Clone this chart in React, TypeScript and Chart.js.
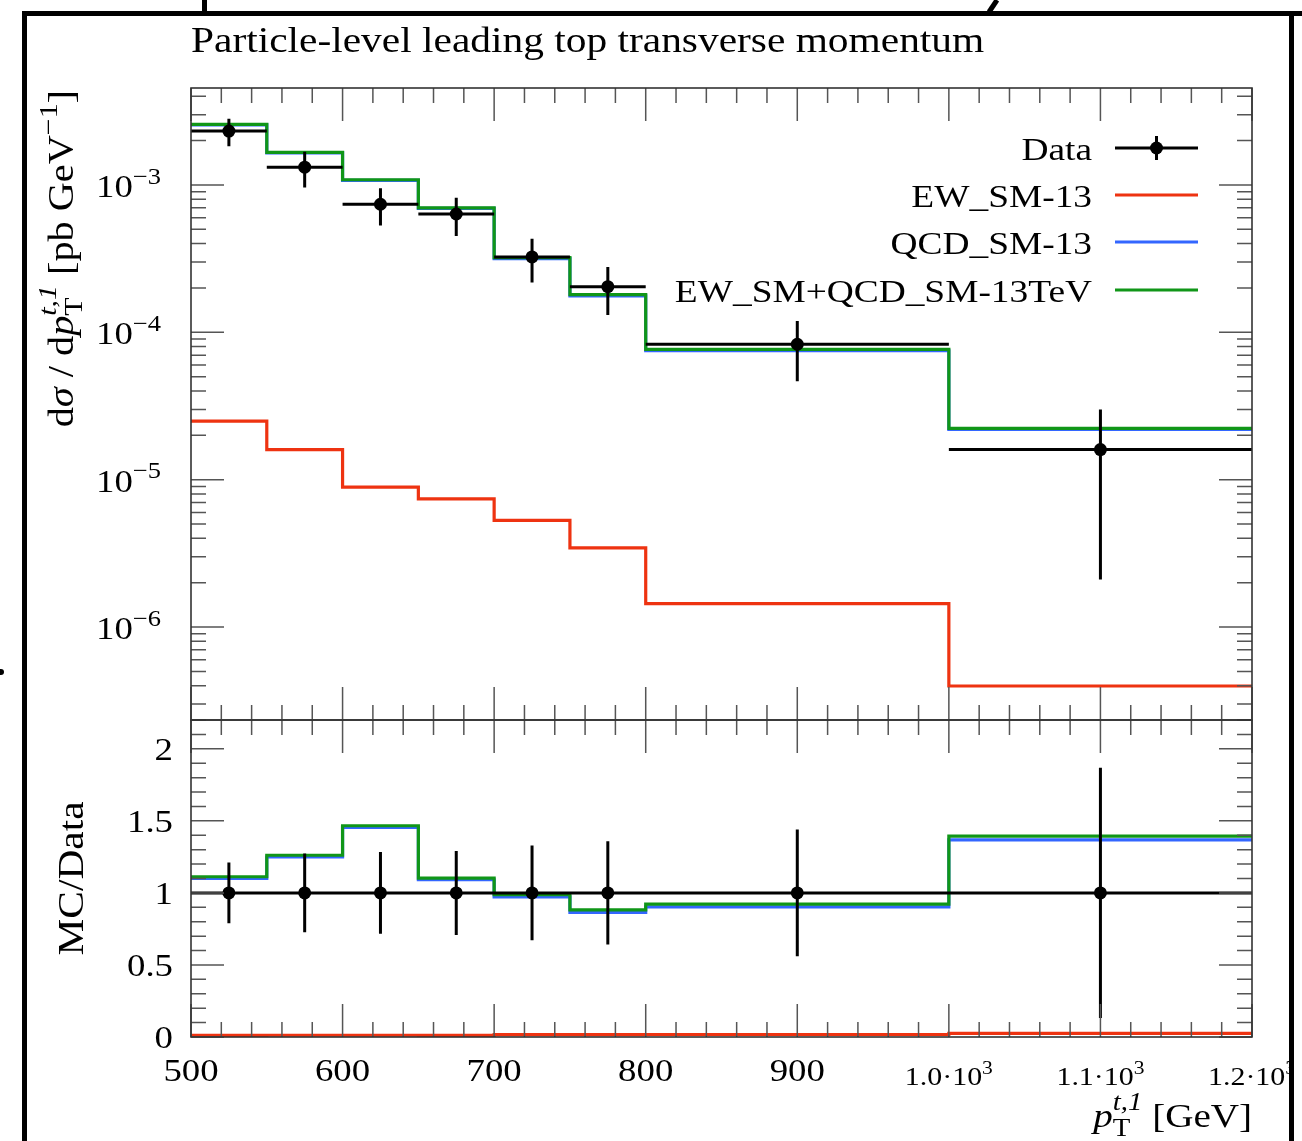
import React, { useEffect, useRef } from 'react';
import { Chart, registerables } from 'chart.js';

Chart.register(...registerables);

// ---------------- data ----------------
const binEdges = [500, 550, 600, 650, 700, 750, 800, 1000, 1200];
const binCenters = [525, 575, 625, 675, 725, 775, 900, 1100];
const dataValues = [2.32e-3, 1.32e-3, 7.4e-4, 6.35e-4, 3.25e-4, 2.04e-4, 8.3e-5, 1.6e-5];
const dataErrors = [4.9e-4, 3.6e-4, 2.1e-4, 1.85e-4, 1.07e-4, 7.3e-5, 3.65e-5, 1.39e-5];
const ewValues = [2.5e-5, 1.6e-5, 8.9e-6, 7.4e-6, 5.3e-6, 3.45e-6, 1.44e-6, 3.98e-7];
const qcdValues = [2.555e-3, 1.649e-3, 1.076e-3, 6.93e-4, 3.16e-4, 1.765e-4, 7.5e-5, 2.19e-5];
const totalValues = [2.58e-3, 1.665e-3, 1.085e-3, 7.0e-4, 3.21e-4, 1.8e-4, 7.65e-5, 2.23e-5];

const seriesLabels = ['Data', 'EW_SM-13', 'QCD_SM-13', 'EW_SM+QCD_SM-13TeV'];
const seriesColors = ['#000000', '#EE3311', '#3366FF', '#109618'];

const xTickValues = [500, 600, 700, 800, 900, 1000, 1100, 1200];
const xTickLabels = ['500', '600', '700', '800', '900', '1.0·10^3', '1.1·10^3', '1.2·10^3'];
const yTickValues = [1e-3, 1e-4, 1e-5, 1e-6];
const yTickLabels = ['10^−3', '10^−4', '10^−5', '10^−6'];
const rTickValues = [0, 0.5, 1, 1.5, 2];
const rTickLabels = ['0', '0.5', '1', '1.5', '2'];

const titleText = 'Particle-level leading top transverse momentum';

const X_MIN = 500;
const X_MAX = 1200;
const Y_MIN = 2.34e-7;
const Y_MAX = 4.55e-3;
const R_MIN = 0;
const R_MAX = 2.2;

// ---------------- text helpers ----------------
const FAMILY = '"Liberation Serif", "Times New Roman", serif';
const SX = 1.15;

type Run = { t: string; s: number; it?: boolean; dy?: number };
type Piece = Run | { sub: Run; sup: Run };

function fontOf(s: number, it?: boolean) {
  return `${it ? 'italic ' : ''}${s}px ${FAMILY}`;
}
function runWidth(ctx: CanvasRenderingContext2D, r: Run) {
  ctx.font = fontOf(r.s, r.it);
  return ctx.measureText(r.t).width * SX;
}
function pieceWidth(ctx: CanvasRenderingContext2D, p: Piece) {
  if ('sub' in p) return Math.max(runWidth(ctx, p.sub), runWidth(ctx, p.sup));
  return runWidth(ctx, p);
}
function drawRun(ctx: CanvasRenderingContext2D, r: Run, x: number, y: number) {
  ctx.font = fontOf(r.s, r.it);
  ctx.save();
  ctx.translate(x, y + (r.dy || 0));
  ctx.scale(SX, 1);
  ctx.fillText(r.t, 0, 0);
  ctx.restore();
}
function drawRich(
  ctx: CanvasRenderingContext2D,
  pieces: Piece[],
  x: number,
  y: number,
  align: 'left' | 'right' | 'center',
  color = '#000'
) {
  const total = pieces.reduce((w, p) => w + pieceWidth(ctx, p), 0);
  let cx = align === 'left' ? x : align === 'right' ? x - total : x - total / 2;
  ctx.fillStyle = color;
  ctx.textAlign = 'left';
  ctx.textBaseline = 'alphabetic';
  for (const p of pieces) {
    if ('sub' in p) {
      drawRun(ctx, p.sub, cx, y);
      drawRun(ctx, p.sup, cx, y);
    } else {
      drawRun(ctx, p, cx, y);
    }
    cx += pieceWidth(ctx, p);
  }
}
function labelPieces(label: string, size: number): Piece[] {
  const [base, sup] = label.split('^');
  const out: Piece[] = [{ t: base, s: size }];
  if (sup) out.push({ t: sup, s: size * 0.72, dy: -size * 0.42 });
  return out;
}

// ---------------- tick helpers ----------------
const MAJOR = 33;
const MINOR = 15;
const TICK_COLOR = '#555';
const FRAME_COLOR = '#333';

function xMinorTicks() {
  const out: number[] = [];
  for (let v = X_MIN; v <= X_MAX; v += 20) if (v % 100 !== 0) out.push(v);
  return out;
}

function drawXTicks(chart: any) {
  const { ctx, chartArea: a } = chart;
  const xs = chart.scales.x;
  ctx.beginPath();
  for (const v of xTickValues) {
    const px = xs.getPixelForValue(v);
    ctx.moveTo(px, a.bottom);
    ctx.lineTo(px, a.bottom - MAJOR);
    ctx.moveTo(px, a.top);
    ctx.lineTo(px, a.top + MAJOR);
  }
  for (const v of xMinorTicks()) {
    const px = xs.getPixelForValue(v);
    ctx.moveTo(px, a.bottom);
    ctx.lineTo(px, a.bottom - MINOR);
    ctx.moveTo(px, a.top);
    ctx.lineTo(px, a.top + MINOR);
  }
  ctx.stroke();
}

function drawYTicks(chart: any, majors: number[], minors: number[]) {
  const { ctx, chartArea: a } = chart;
  const ys = chart.scales.y;
  ctx.beginPath();
  for (const v of majors) {
    const py = ys.getPixelForValue(v);
    ctx.moveTo(a.left, py);
    ctx.lineTo(a.left + MAJOR, py);
    ctx.moveTo(a.right, py);
    ctx.lineTo(a.right - MAJOR, py);
  }
  for (const v of minors) {
    const py = ys.getPixelForValue(v);
    ctx.moveTo(a.left, py);
    ctx.lineTo(a.left + MINOR, py);
    ctx.moveTo(a.right, py);
    ctx.lineTo(a.right - MINOR, py);
  }
  ctx.stroke();
}

function drawFrame(chart: any) {
  const { ctx, chartArea: a } = chart;
  ctx.strokeStyle = FRAME_COLOR;
  ctx.lineWidth = 1.6;
  ctx.strokeRect(a.left, a.top, a.right - a.left, a.bottom - a.top);
}

function stepPoints(values: number[]) {
  const pts = values.map((v, i) => ({ x: binEdges[i], y: v }));
  pts.push({ x: binEdges[binEdges.length - 1], y: values[values.length - 1] });
  return pts;
}

function stepDataset(label: string, values: number[], color: string, order: number) {
  return {
    type: 'line' as const,
    label,
    data: stepPoints(values),
    borderColor: color,
    backgroundColor: color,
    borderWidth: 3.2,
    stepped: true,
    pointRadius: 0,
    fill: false,
    order,
  };
}

// ---------------- upper panel plugin ----------------
const upperPlugin = {
  id: 'upperDecor',
  afterDatasetsDraw(chart: any) {
    const { ctx, chartArea: a } = chart;
    const xs = chart.scales.x;
    const ys = chart.scales.y;
    ctx.save();
    ctx.beginPath();
    ctx.rect(a.left, a.top, a.right - a.left, a.bottom - a.top);
    ctx.clip();
    ctx.strokeStyle = '#000';
    ctx.lineWidth = 3;
    ctx.beginPath();
    dataValues.forEach((v, i) => {
      const y = ys.getPixelForValue(v);
      ctx.moveTo(xs.getPixelForValue(binEdges[i]), y);
      ctx.lineTo(xs.getPixelForValue(binEdges[i + 1]), y);
      const cx = xs.getPixelForValue(binCenters[i]);
      ctx.moveTo(cx, ys.getPixelForValue(v + dataErrors[i]));
      ctx.lineTo(cx, ys.getPixelForValue(v - dataErrors[i]));
    });
    ctx.stroke();
    ctx.restore();
  },
  afterDraw(chart: any) {
    const { ctx, chartArea: a } = chart;
    const ys = chart.scales.y;
    ctx.save();
    // ticks
    ctx.strokeStyle = TICK_COLOR;
    ctx.lineWidth = 1.5;
    drawXTicks(chart);
    const majors: number[] = [];
    const minors: number[] = [];
    for (let e = -7; e <= -2; e++) {
      for (let m = 1; m <= 9; m++) {
        const v = m * Math.pow(10, e);
        if (v < Y_MIN || v > Y_MAX) continue;
        if (m === 1) majors.push(v);
        else minors.push(v);
      }
    }
    drawYTicks(chart, majors, minors);
    drawFrame(chart);

    // y tick labels
    yTickValues.forEach((v, i) => {
      const py = ys.getPixelForValue(v);
      drawRich(ctx, labelPieces(yTickLabels[i], 32), 161, py + 12, 'right');
    });

    // y axis title (rotated, aligned to the top of the panel)
    ctx.save();
    ctx.translate(73, a.top + 2);
    ctx.rotate(-Math.PI / 2);
    const yTitle: Piece[] = [
      { t: 'd', s: 35 },
      { t: 'σ', s: 35, it: true },
      { t: ' / d', s: 35 },
      { t: 'p', s: 35, it: true },
      { sub: { t: 'T', s: 26, dy: 9 }, sup: { t: 't,1', s: 26, it: true, dy: -17 } },
      { t: ' [pb GeV', s: 35 },
      { t: '−1', s: 26, dy: -16 },
      { t: ']', s: 35 },
    ];
    drawRich(ctx, yTitle, 0, 0, 'right');
    ctx.restore();

    // title
    drawRich(ctx, [{ t: titleText, s: 36 }], 191, 52, 'left');

    // legend
    const legendTextRight = 1092;
    const lineX1 = 1115;
    const lineX2 = 1198;
    const rowY = [148, 195, 242, 290];
    seriesLabels.forEach((label, i) => {
      const y = rowY[i];
      drawRich(ctx, [{ t: label, s: 32.5 }], legendTextRight, y + 12, 'right');
      ctx.strokeStyle = seriesColors[i];
      ctx.lineWidth = 3;
      ctx.beginPath();
      ctx.moveTo(lineX1, y);
      ctx.lineTo(lineX2, y);
      ctx.stroke();
      if (i === 0) {
        const mx = (lineX1 + lineX2) / 2;
        ctx.beginPath();
        ctx.moveTo(mx, y - 12);
        ctx.lineTo(mx, y + 12);
        ctx.stroke();
        ctx.fillStyle = '#000';
        ctx.beginPath();
        ctx.arc(mx, y, 6.5, 0, Math.PI * 2);
        ctx.fill();
      }
    });

    // page decoration (frame of the surrounding document)
    ctx.fillStyle = '#fff';
    ctx.fillRect(1289, 0, 13, 1141);
    ctx.fillStyle = '#000';
    ctx.fillRect(22, 11, 1280, 5);
    ctx.fillRect(22, 11, 5, 1130);
    ctx.fillRect(1289, 11, 5, 1130);
    ctx.fillRect(202, 0, 5, 14);
    ctx.strokeStyle = '#000';
    ctx.lineWidth = 5;
    ctx.beginPath();
    ctx.moveTo(997, 0);
    ctx.lineTo(989, 12);
    ctx.stroke();
    ctx.beginPath();
    ctx.arc(1, 672, 3, 0, Math.PI * 2);
    ctx.fill();
    ctx.restore();
  },
};

// ---------------- lower (ratio) panel plugin ----------------
const lowerPlugin = {
  id: 'lowerDecor',
  afterDatasetsDraw(chart: any) {
    const { ctx, chartArea: a } = chart;
    const xs = chart.scales.x;
    const ys = chart.scales.y;
    ctx.save();
    ctx.beginPath();
    ctx.rect(a.left, a.top, a.right - a.left, a.bottom - a.top);
    ctx.clip();
    ctx.strokeStyle = '#000';
    ctx.lineWidth = 3;
    ctx.beginPath();
    dataValues.forEach((v, i) => {
      const y = ys.getPixelForValue(1);
      ctx.moveTo(xs.getPixelForValue(binEdges[i]), y);
      ctx.lineTo(xs.getPixelForValue(binEdges[i + 1]), y);
      const rel = dataErrors[i] / v;
      const cx = xs.getPixelForValue(binCenters[i]);
      ctx.moveTo(cx, ys.getPixelForValue(1 + rel));
      ctx.lineTo(cx, ys.getPixelForValue(1 - rel));
    });
    ctx.stroke();
    ctx.restore();
  },
  afterDraw(chart: any) {
    const { ctx, chartArea: a } = chart;
    const xs = chart.scales.x;
    const ys = chart.scales.y;
    ctx.save();
    ctx.strokeStyle = TICK_COLOR;
    ctx.lineWidth = 1.5;
    drawXTicks(chart);
    const minors: number[] = [];
    for (let k = 1; k <= 22; k++) {
      if (k % 5 !== 0) minors.push(k / 10);
    }
    drawYTicks(chart, rTickValues, minors);
    drawFrame(chart);

    rTickValues.forEach((v, i) => {
      const py = ys.getPixelForValue(v);
      drawRich(ctx, labelPieces(rTickLabels[i], 32), 173, py + 11, 'right');
    });

    xTickValues.forEach((v, i) => {
      const px = xs.getPixelForValue(v);
      const big = i < 5;
      drawRich(ctx, labelPieces(xTickLabels[i], big ? 32 : 26), px, big ? 1081 : 1085, 'center');
    });

    // x axis title
    const xTitle: Piece[] = [
      { t: 'p', s: 34, it: true },
      { sub: { t: 'T', s: 25, dy: 9 }, sup: { t: 't,1', s: 25, it: true, dy: -17 } },
      { t: ' [GeV]', s: 34 },
    ];
    drawRich(ctx, xTitle, a.right, 1127, 'right');

    // y axis title
    ctx.save();
    ctx.translate(83, (a.top + a.bottom) / 2);
    ctx.rotate(-Math.PI / 2);
    drawRich(ctx, [{ t: 'MC/Data', s: 36 }], 0, 0, 'center');
    ctx.restore();
    ctx.restore();
  },
};

function commonOptions(padding: any, yScale: any) {
  return {
    animation: false as const,
    responsive: false,
    events: [] as any[],
    layout: { padding },
    plugins: { legend: { display: false }, tooltip: { enabled: false }, title: { display: false } },
    scales: {
      x: { type: 'linear' as const, min: X_MIN, max: X_MAX, display: false },
      y: yScale,
    },
  };
}

export default function App() {
  const upperRef = useRef<HTMLCanvasElement>(null);
  const lowerRef = useRef<HTMLCanvasElement>(null);

  useEffect(() => {
    document.body.style.overflow = 'hidden';
    const lower = new Chart(lowerRef.current as HTMLCanvasElement, {
      type: 'line',
      data: {
        datasets: [
          {
            type: 'scatter',
            label: seriesLabels[0],
            data: binCenters.map((x) => ({ x, y: 1 })),
            pointRadius: 6.5,
            pointBackgroundColor: '#000',
            pointBorderWidth: 0,
            showLine: false,
            order: 0,
          } as any,
          stepDataset(seriesLabels[3], totalValues.map((v, i) => v / dataValues[i]), seriesColors[3], 1),
          stepDataset(seriesLabels[2], qcdValues.map((v, i) => v / dataValues[i]), seriesColors[2], 2),
          stepDataset(seriesLabels[1], ewValues.map((v, i) => v / dataValues[i]), seriesColors[1], 3),
        ],
      },
      options: commonOptions(
        { left: 191, right: 50, top: 720, bottom: 104 },
        { type: 'linear', min: R_MIN, max: R_MAX, display: false }
      ) as any,
      plugins: [lowerPlugin],
    });

    const upper = new Chart(upperRef.current as HTMLCanvasElement, {
      type: 'line',
      data: {
        datasets: [
          {
            type: 'scatter',
            label: seriesLabels[0],
            data: binCenters.map((x, i) => ({ x, y: dataValues[i] })),
            pointRadius: 6.5,
            pointBackgroundColor: '#000',
            pointBorderWidth: 0,
            showLine: false,
            order: 0,
          } as any,
          stepDataset(seriesLabels[3], totalValues, seriesColors[3], 1),
          stepDataset(seriesLabels[2], qcdValues, seriesColors[2], 2),
          stepDataset(seriesLabels[1], ewValues, seriesColors[1], 3),
        ],
      },
      options: commonOptions(
        { left: 191, right: 50, top: 88, bottom: 421 },
        { type: 'logarithmic', min: Y_MIN, max: Y_MAX, display: false }
      ) as any,
      plugins: [upperPlugin],
    });

    return () => {
      upper.destroy();
      lower.destroy();
    };
  }, []);

  const canvasStyle: React.CSSProperties = { position: 'absolute', left: 0, top: 0 };
  return (
    <div style={{ position: 'absolute', left: 0, top: 0, width: 1302, height: 1141, background: '#fff', overflow: 'hidden' }}>
      <canvas ref={lowerRef} width={1302} height={1141} style={canvasStyle} />
      <canvas ref={upperRef} width={1302} height={1141} style={canvasStyle} />
    </div>
  );
}
